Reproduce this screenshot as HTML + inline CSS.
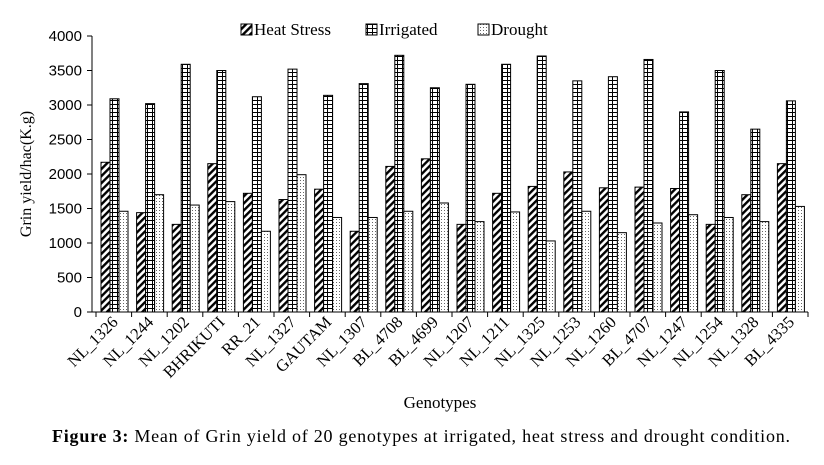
<!DOCTYPE html>
<html><head><meta charset="utf-8"><style>
body{margin:0;background:#fff;width:824px;height:460px;overflow:hidden;font-family:"Liberation Serif",serif;}
</style></head><body>
<svg width="824" height="460" xmlns="http://www.w3.org/2000/svg">
<defs>
<pattern id="pHeat" width="5" height="5" patternUnits="userSpaceOnUse" patternTransform="rotate(45)">
<rect width="5" height="5" fill="#fff"/><rect width="2.4" height="5" fill="#000"/></pattern>
<pattern id="pIrr" width="5" height="4" patternUnits="userSpaceOnUse">
<rect width="5" height="4" fill="#fff"/><rect width="5" height="1" fill="#000"/><rect x="2" width="1" height="4" fill="#000"/></pattern>
<pattern id="pDr" width="3" height="3" patternUnits="userSpaceOnUse">
<rect width="3" height="3" fill="#fff"/><rect width="1" height="1" fill="#666"/></pattern>
</defs>
<g id="plot"></g>
<g font-size="17">
<rect x="241" y="24" width="11" height="11" fill="url(#pHeat)" stroke="#000"/><text x="254" y="35">Heat Stress</text>
<rect x="366" y="24" width="11" height="11" fill="url(#pIrr)" stroke="#000"/><text x="379" y="35">Irrigated</text>
<rect x="478" y="24" width="11" height="11" fill="url(#pDr)" stroke="#000"/><text x="491" y="35">Drought</text>
</g>
<text x="0" y="0" font-size="16" text-anchor="middle" transform="translate(31,174) rotate(-90)">Grin yield/hac(K.g)</text>
<text x="440" y="408" font-size="17" text-anchor="middle">Genotypes</text>
<text x="52" y="442" font-size="18" textLength="738" lengthAdjust="spacing"><tspan font-weight="bold">Figure 3:</tspan> Mean of Grin yield of 20 genotypes at irrigated, heat stress and drought condition.</text>
</svg>
<script>
const categories=["NL_1326","NL_1244","NL_1202","BHRIKUTI","RR_21","NL_1327","GAUTAM","NL_1307","BL_4708","BL_4699","NL_1207","NL_1211","NL_1325","NL_1253","NL_1260","BL_4707","NL_1247","NL_1254","NL_1328","BL_4335"];
const heatStress=[2170,1440,1270,2150,1720,1630,1780,1170,2110,2220,1270,1720,1820,2030,1800,1810,1790,1270,1700,2150];
const irrigated=[3090,3020,3590,3500,3120,3520,3140,3310,3720,3250,3300,3590,3710,3350,3410,3660,2900,3500,2650,3060];
const drought=[1460,1700,1550,1600,1170,1990,1370,1370,1460,1580,1310,1450,1030,1460,1150,1290,1410,1370,1310,1530];
const yTicks=[0,500,1000,1500,2000,2500,3000,3500,4000];
const NS="http://www.w3.org/2000/svg";
const g=document.getElementById('plot');
const x0=96,step=35.6,y0=312,yTop=36,yMax=4000;
const ys=v=>y0-(v/yMax)*(y0-yTop);
const xs=i=>x0+i*step;
function mk(t,a){const e=document.createElementNS(NS,t);for(const k in a)e.setAttribute(k,a[k]);g.appendChild(e);return e;}
let ax=mk('line',{x1:x0-4,y1:yTop,x2:x0-4,y2:y0,stroke:'#000'});


let bx=mk('line',{x1:x0-4,y1:y0,x2:xs(categories.length),y2:y0,stroke:'#000'});


yTicks.forEach(v=>{
 const y=ys(v);
 mk('line',{x1:x0-9,y1:y,x2:x0-4,y2:y,stroke:'#000'});
 const t=mk('text',{x:x0-14,y:y+5,'font-size':15,'text-anchor':'end','font-family':'Liberation Sans, sans-serif'});
 t.textContent=v;
 
 
});
const series=[[heatStress,'url(#pHeat)','heat'],[irrigated,'url(#pIrr)','irrigated'],[drought,'url(#pDr)','drought']];
const bw=9,off=5;
categories.forEach((c,i)=>{
 mk('line',{x1:xs(i),y1:y0,x2:xs(i),y2:y0+5,stroke:'#000'});
 series.forEach((s,j)=>{
  const v=s[0][i];
  const r=mk('rect',{x:xs(i)+off+j*bw,y:ys(v),width:bw,height:y0-ys(v),fill:s[1],stroke:'#000','stroke-width':1});
  
  
 });
 const cx=xs(i)+step/2+5;
 const t=mk('text',{x:cx,y:323,'font-size':16.5,'text-anchor':'end',transform:`rotate(-45 ${cx} 323)`});
 t.textContent=c;
 
 
});
mk('line',{x1:xs(categories.length),y1:y0,x2:xs(categories.length),y2:y0+5,stroke:'#000'});
</script>
</body></html>
